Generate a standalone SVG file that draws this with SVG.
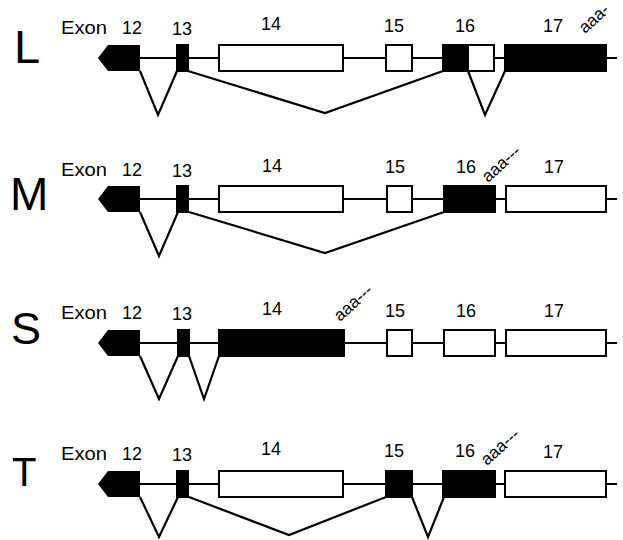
<svg xmlns="http://www.w3.org/2000/svg" width="623" height="540" viewBox="0 0 623 540">
<style>
text{font-family:"Liberation Sans",Arial,sans-serif;fill:#000}
.big{font-size:47px}
.lbl{font-size:18px;text-anchor:middle}
.ex{font-size:18px}
.aaa{font-size:17px}
.line{stroke:#000;stroke-width:2.2;fill:none}
.b{fill:#000;stroke:#000;stroke-width:2}
.w{fill:#fff;stroke:#000;stroke-width:2}
.spl{stroke:#000;stroke-width:2.2;fill:none;stroke-linejoin:miter}
</style>
<defs>
<polygon id="e12" points="98,58 108,45 140,45 140,71 108,71" fill="#000"/>
</defs>

<!-- L -->
<g id="panel-L">
<text class="big" x="14" y="63">L</text>
<text class="ex" x="61" y="34" textLength="46" lengthAdjust="spacingAndGlyphs">Exon</text>
<text class="lbl" x="132" y="34">12</text>
<text class="lbl" x="182" y="35">13</text>
<text class="lbl" x="271" y="30">14</text>
<text class="lbl" x="394" y="32">15</text>
<text class="lbl" x="465" y="32">16</text>
<text class="lbl" x="553" y="32">17</text>
<text class="aaa" transform="translate(585,34) rotate(-42)">aaa-</text>
<line class="line" x1="140" y1="58" x2="617" y2="58"/>
<g id="L-e12"><use href="#e12"/></g>
<rect id="L-e13" class="b" x="177" y="45" width="11" height="26"/>
<rect id="L-e14" class="w" x="219" y="45" width="124" height="26"/>
<rect id="L-e15" class="w" x="386" y="45" width="26" height="26"/>
<g id="L-e16"><rect class="b" x="443" y="45" width="25" height="26"/><rect class="w" x="468" y="45" width="26" height="26"/></g>
<rect id="L-e17" class="b" x="505" y="45" width="101" height="26"/>
<g id="L-splices">
<polyline class="spl" points="140,71 158,115 177,71"/>
<polyline class="spl" points="188,71 325,113 443,71"/>
<polyline class="spl" points="468,71 485,115 505,71"/>
</g>
</g>

<!-- M -->
<g id="panel-M" transform="translate(0,141)">
<text class="big" x="10" y="69" style="font-size:46px">M</text>
<text class="ex" x="61" y="34.5" textLength="46" lengthAdjust="spacingAndGlyphs">Exon</text>
<text class="lbl" x="132" y="34.5">12</text>
<text class="lbl" x="182" y="35.5">13</text>
<text class="lbl" x="272" y="30.5">14</text>
<text class="lbl" x="395" y="32">15</text>
<text class="lbl" x="466" y="32">16</text>
<text class="lbl" x="554" y="32">17</text>
<text class="aaa" transform="translate(488,42) rotate(-42)">aaa---</text>
<line class="line" x1="140" y1="58" x2="617" y2="58"/>
<g id="M-e12"><use href="#e12"/></g>
<rect id="M-e13" class="b" x="177" y="45" width="11" height="26"/>
<rect id="M-e14" class="w" x="219" y="45" width="124" height="26"/>
<rect id="M-e15" class="w" x="387" y="45" width="25" height="26"/>
<rect id="M-e16" class="b" x="444" y="45" width="51" height="26"/>
<rect id="M-e17" class="w" x="506" y="45" width="100" height="26"/>
<g id="M-splices">
<polyline class="spl" points="140,71 159,115 178,71"/>
<polyline class="spl" points="189,71 325,112 444,71"/>
</g>
</g>

<!-- S -->
<g id="panel-S" transform="translate(0,285)">
<text class="big" x="11" y="59" style="font-size:45px">S</text>
<text class="ex" x="61" y="34" textLength="46" lengthAdjust="spacingAndGlyphs">Exon</text>
<text class="lbl" x="132" y="34">12</text>
<text class="lbl" x="182" y="35">13</text>
<text class="lbl" x="272" y="30">14</text>
<text class="lbl" x="395" y="32">15</text>
<text class="lbl" x="466" y="32">16</text>
<text class="lbl" x="554" y="32">17</text>
<text class="aaa" transform="translate(340,37) rotate(-42)">aaa---</text>
<line class="line" x1="140" y1="58" x2="617" y2="58"/>
<g id="S-e12"><use href="#e12"/></g>
<rect id="S-e13" class="b" x="178" y="45" width="11" height="26"/>
<rect id="S-e14" class="b" x="219" y="45" width="125" height="26"/>
<rect id="S-e15" class="w" x="387" y="45" width="25" height="26"/>
<rect id="S-e16" class="w" x="444" y="45" width="51" height="26"/>
<rect id="S-e17" class="w" x="506" y="45" width="100" height="26"/>
<g id="S-splices">
<polyline class="spl" points="140,71 159,114 178,71"/>
<polyline class="spl" points="189,71 204,114 219,71"/>
</g>
</g>

<!-- T -->
<g id="panel-T" transform="translate(0,426)">
<text class="big" x="12" y="60" style="font-size:40px">T</text>
<text class="ex" x="61" y="34" textLength="46" lengthAdjust="spacingAndGlyphs">Exon</text>
<text class="lbl" x="132" y="34">12</text>
<text class="lbl" x="182" y="35">13</text>
<text class="lbl" x="271" y="29">14</text>
<text class="lbl" x="394" y="31">15</text>
<text class="lbl" x="465" y="31">16</text>
<text class="lbl" x="553" y="32">17</text>
<text class="aaa" transform="translate(487,40) rotate(-42)">aaa---</text>
<line class="line" x1="140" y1="58" x2="617" y2="58"/>
<g id="T-e12"><use href="#e12"/></g>
<rect id="T-e13" class="b" x="177" y="45" width="11" height="26"/>
<rect id="T-e14" class="w" x="219" y="45" width="124" height="26"/>
<rect id="T-e15" class="b" x="386" y="45" width="26" height="26"/>
<rect id="T-e16" class="b" x="443" y="45" width="52" height="26"/>
<rect id="T-e17" class="w" x="505" y="45" width="101" height="26"/>
<g id="T-splices">
<polyline class="spl" points="140,71 159,111 178,71"/>
<polyline class="spl" points="189,71 289,109 386,71"/>
<polyline class="spl" points="412,71 428,111 444,71"/>
</g>
</g>
</svg>
